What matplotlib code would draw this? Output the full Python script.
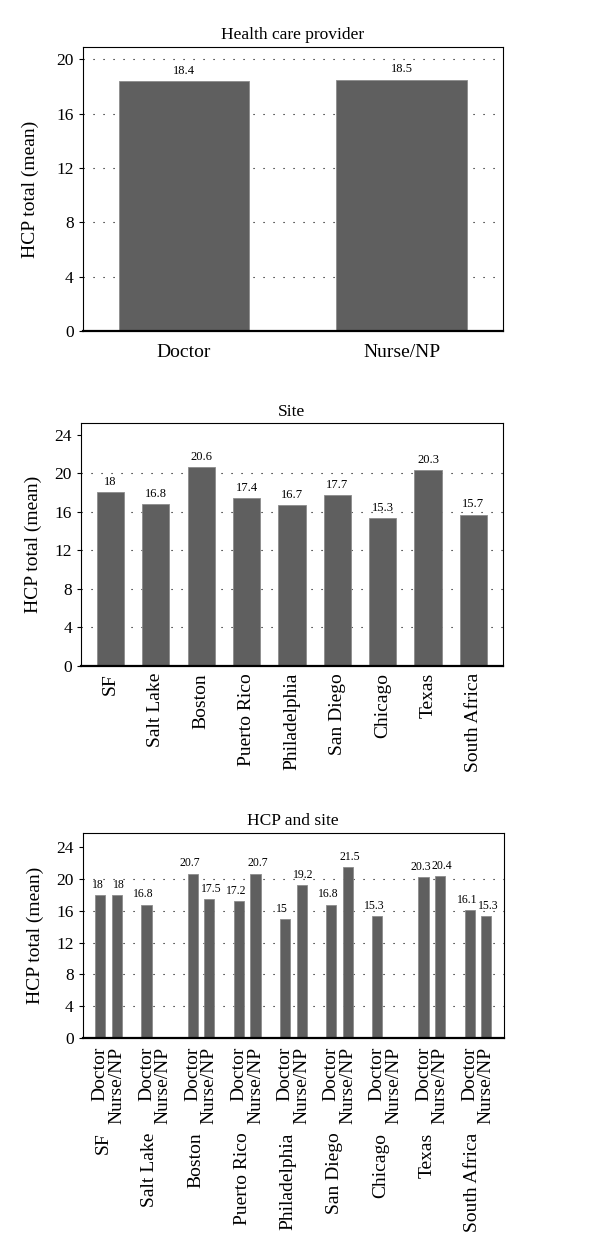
import matplotlib
matplotlib.use("Agg")
import matplotlib.pyplot as plt
import numpy as np

# data
providers = ["Doctor", "Nurse/NP"]
provider_means = [18.4, 18.5]

sites = ["SF", "Salt Lake", "Boston", "Puerto Rico", "Philadelphia",
         "San Diego", "Chicago", "Texas", "South Africa"]
site_means = [18, 16.8, 20.6, 17.4, 16.7, 17.7, 15.3, 20.3, 15.7]

doctor_means = [18, 16.8, 20.7, 17.2, 15, 16.8, 15.3, 20.3, 16.1]
nurse_means = [18, None, 17.5, 20.7, 19.2, 21.5, None, 20.4, 15.3]

ylabel = "HCP total (mean)"
bar_color = "#5f5f5f"
edge_color = "#8c8c8c"

plt.rcParams['font.family'] = ['Liberation Serif', 'DejaVu Serif']


def style_axes(ax, yticks):
    ax.set_yticks(yticks)
    ax.tick_params(axis='y', labelsize=12.5, length=3, width=0.8, direction='out')
    ax.tick_params(axis='x', length=0, labelsize=14)
    ax.set_axisbelow(True)
    ax.yaxis.grid(True, color='black', linestyle=(0, (1, 8)), linewidth=0.8)
    for line, t in zip(ax.get_ygridlines(), yticks):
        if t == 0 or t > 20:
            line.set_visible(False)
    for s in ax.spines.values():
        s.set_linewidth(0.8)
    ax.spines['bottom'].set_linewidth(1.6)


def label_bars(ax, bars, values, size=9, dx=0):
    for b, v in zip(bars, values):
        if v is None:
            continue
        ax.annotate(f"{v:g}", (b.get_x() + b.get_width() / 2, v),
                    xytext=(dx, 3), textcoords='offset points',
                    ha='center', va='bottom', fontsize=size)


fig = plt.figure(figsize=(6, 12.54), dpi=100)

# Panel 1: Health care provider
ax1 = fig.add_axes([0.138, 0.736, 0.700, 0.2265])
x1 = np.arange(len(providers))
b1 = ax1.bar(x1, provider_means, width=0.6, color=bar_color,
             edgecolor=edge_color, linewidth=0.6)
ax1.set_xlim(-0.465, 1.465)
ax1.set_ylim(0, 20.9)
style_axes(ax1, [0, 4, 8, 12, 16, 20])
ax1.set_xticks(x1, providers)
ax1.tick_params(axis='x', pad=9)
ax1.set_title("Health care provider", fontsize=12.5, pad=6)
ax1.set_ylabel(ylabel, fontsize=14)
ax1.yaxis.set_label_coords(-0.105, 0.5)
label_bars(ax1, b1, provider_means)

# Panel 2: Site
ax2 = fig.add_axes([0.135, 0.4689, 0.703, 0.1938])
x2 = np.arange(len(sites))
b2 = ax2.bar(x2, site_means, width=0.6, color=bar_color,
             edgecolor=edge_color, linewidth=0.6)
ax2.set_xlim(-0.65, 8.65)
ax2.set_ylim(0, 25.2)
style_axes(ax2, [0, 4, 8, 12, 16, 20, 24])
ax2.set_xticks(x2, sites, rotation=90)
ax2.tick_params(axis='x', pad=5)
ax2.set_title("Site", fontsize=12.5, pad=5)
ax2.set_ylabel(ylabel, fontsize=14)
ax2.yaxis.set_label_coords(-0.092, 0.5)
label_bars(ax2, b2, site_means)

# Panel 3: HCP and site
ax3 = fig.add_axes([0.138, 0.1722, 0.7017, 0.1635])
x3 = np.arange(len(sites))
off = 0.18
doc_vals = [np.nan if v is None else v for v in doctor_means]
nur_vals = [np.nan if v is None else v for v in nurse_means]
b3d = ax3.bar(x3 - off, doc_vals, width=0.22, color=bar_color,
              edgecolor=edge_color, linewidth=0.6)
b3n = ax3.bar(x3 + off, nur_vals, width=0.22, color=bar_color,
              edgecolor=edge_color, linewidth=0.6)
ax3.set_xlim(-0.56, 8.56)
ax3.set_ylim(0, 25.8)
style_axes(ax3, [0, 4, 8, 12, 16, 20, 24])
pos = np.ravel(np.column_stack([x3 - off, x3 + off]))
labs = providers * len(sites)
ax3.set_xticks(pos, labs, rotation=90)
ax3.tick_params(axis='x', pad=6)
sec = ax3.secondary_xaxis('bottom')
sec.set_xticks(x3 - 0.11, sites, rotation=90)
sec.tick_params(length=0, pad=68, labelsize=14)
sec.spines['bottom'].set_visible(False)
ax3.set_title("HCP and site", fontsize=12.5, pad=6)
ax3.set_ylabel(ylabel, fontsize=14)
ax3.yaxis.set_label_coords(-0.093, 0.5)
label_bars(ax3, b3d, doctor_means, size=8.5, dx=-2)
label_bars(ax3, b3n, nurse_means, size=8.5, dx=1.5)

fig.savefig("out.png", dpi=100)
